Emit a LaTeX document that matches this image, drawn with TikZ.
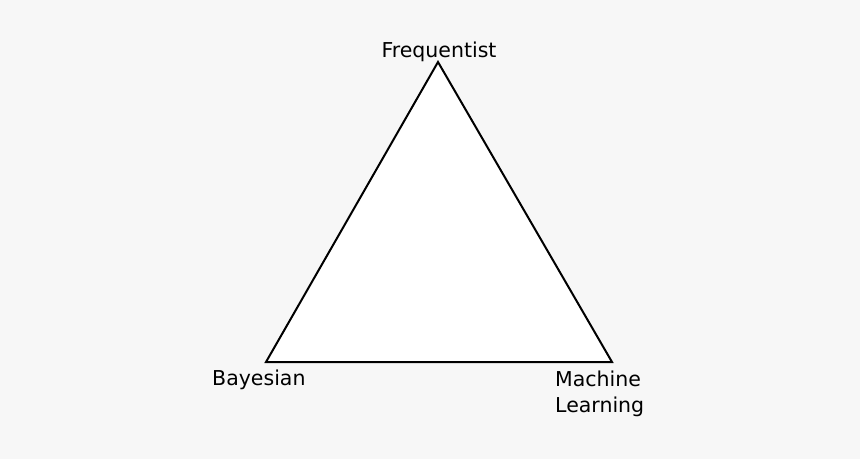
\documentclass[tikz,border=0pt]{standalone}
\usepackage{fontspec}
\setmainfont{DejaVu Sans}
\begin{document}
\begin{tikzpicture}[x=1pt,y=-1pt,
  lbl/.style={inner sep=0pt,font=\fontsize{20.5}{26}\selectfont},
  tri/.style={draw=black,fill=white,line width=2pt,line join=miter}]
\fill[fill={rgb,255:red,247;green,247;blue,247}] (0,0) rectangle (860,459);
\useasboundingbox (0,0) rectangle (860,459);
\coordinate (F) at (438,62);
\coordinate (B) at (266,362);
\coordinate (M) at (612,362);
\draw[tri] (F) -- (B) -- (M) -- cycle;
\node[lbl,anchor=base] (fl) at (439,57) {Frequentist};
\node[lbl,anchor=base west] (bl) at (212,385) {Bayesian};
\node[lbl,anchor=north west,align=left] (ml) at (555,371) {Machine\\Learning};
\end{tikzpicture}
\end{document}
